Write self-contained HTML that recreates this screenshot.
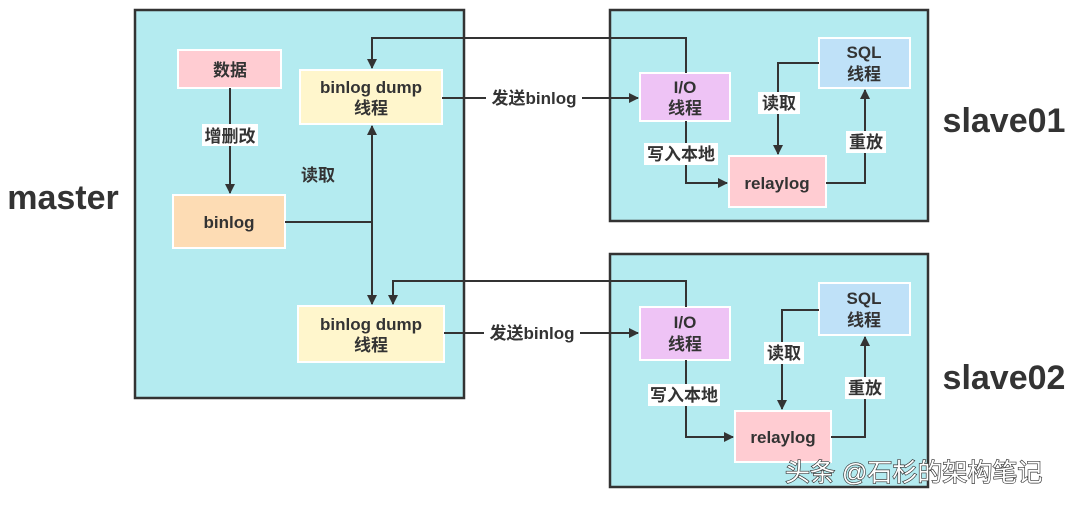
<!DOCTYPE html>
<html><head><meta charset="utf-8"><style>
body{margin:0;background:#fff}
svg text{font-family:"Liberation Sans","Noto Sans CJK SC",sans-serif;font-weight:bold;fill:#333}
</style></head><body>
<svg width="1080" height="503" viewBox="0 0 1080 503" xmlns="http://www.w3.org/2000/svg">
<defs><marker id="a" markerWidth="10" markerHeight="10" refX="9" refY="5" orient="auto" markerUnits="userSpaceOnUse"><path d="M0,0 L10,5 L0,10 Z" fill="#333"/></marker></defs>
<g stroke="#333" stroke-width="2.5">
<rect x="135" y="10" width="329" height="388" fill="#b4ebf0"/>
<rect x="610" y="10" width="318" height="211" fill="#b4ebf0"/>
<rect x="610" y="254" width="318" height="233" fill="#b4ebf0"/>
</g>
<g stroke="#fff" stroke-width="2">
<rect x="178" y="50" width="103" height="38" fill="#ffccd2"/>
<rect x="173" y="195" width="112" height="53" fill="#fddcb4"/>
<rect x="300" y="70" width="142" height="54" fill="#fff6cc"/>
<rect x="298" y="306" width="146" height="56" fill="#fff6cc"/>
<rect x="640" y="73" width="90" height="48" fill="#eec3f5"/>
<rect x="819" y="38" width="91" height="50" fill="#bfe1f8"/>
<rect x="729" y="156" width="97" height="51" fill="#ffccd2"/>
<rect x="640" y="307" width="90" height="53" fill="#eec3f5"/>
<rect x="819" y="283" width="91" height="52" fill="#bfe1f8"/>
<rect x="735" y="411" width="96" height="51" fill="#ffccd2"/>
</g>
<g stroke="#333" stroke-width="2" fill="none">
<path d="M230,88 V193" marker-end="url(#a)"/>
<path d="M285,222 H372"/>
<path d="M372,222 V126" marker-end="url(#a)"/>
<path d="M372,222 V304" marker-end="url(#a)"/>
<path d="M686,73 V38 H372 V68" marker-end="url(#a)"/>
<path d="M442,98 H638" marker-end="url(#a)"/>
<path d="M819,63 H778 V154" marker-end="url(#a)"/>
<path d="M686,121 V183 H727" marker-end="url(#a)"/>
<path d="M826,183 H865 V90" marker-end="url(#a)"/>
<path d="M686,307 V281 H393 V304" marker-end="url(#a)"/>
<path d="M444,333 H638" marker-end="url(#a)"/>
<path d="M819,310 H782 V409" marker-end="url(#a)"/>
<path d="M686,360 V437 H733" marker-end="url(#a)"/>
<path d="M831,437 H865 V337" marker-end="url(#a)"/>
</g>
<g fill="#fff">
<rect x="202" y="124" width="56" height="22"/>
<rect x="486" y="87" width="96" height="22"/>
<rect x="484" y="322" width="96" height="22"/>
<rect x="758" y="92" width="42" height="22"/>
<rect x="644" y="143" width="74" height="22"/>
<rect x="846" y="131" width="40" height="22"/>
<rect x="764" y="342" width="40" height="22"/>
<rect x="648" y="384" width="72" height="22"/>
<rect x="845" y="377" width="40" height="22"/>
</g>
<g font-size="17" text-anchor="middle">
<text x="230" y="76">数据</text>
<text x="230" y="142">增删改</text>
<text x="229" y="228">binlog</text>
<text x="371" y="93">binlog dump</text>
<text x="371" y="114">线程</text>
<text x="371" y="330">binlog dump</text>
<text x="371" y="351">线程</text>
<text x="318" y="181">读取</text>
<text x="534" y="104">发送binlog</text>
<text x="532" y="339">发送binlog</text>
<text x="685" y="93">I/O</text>
<text x="685" y="114">线程</text>
<text x="864" y="58">SQL</text>
<text x="864" y="80">线程</text>
<text x="777" y="189">relaylog</text>
<text x="779" y="109">读取</text>
<text x="681" y="160">写入本地</text>
<text x="866" y="148">重放</text>
<text x="685" y="328">I/O</text>
<text x="685" y="350">线程</text>
<text x="864" y="304">SQL</text>
<text x="864" y="326">线程</text>
<text x="783" y="443">relaylog</text>
<text x="784" y="359">读取</text>
<text x="684" y="401">写入本地</text>
<text x="865" y="394">重放</text>
</g>
<text x="63" y="209" font-size="34" text-anchor="middle">master</text>
<text x="1004" y="132" font-size="34" text-anchor="middle">slave01</text>
<text x="1004" y="389" font-size="34" text-anchor="middle">slave02</text>
<text x="785" y="481" font-size="25" style="font-weight:normal;fill:#fff;stroke:#333;stroke-width:1.3;paint-order:stroke">头条 @石杉的架构笔记</text>
</svg>
</body></html>
